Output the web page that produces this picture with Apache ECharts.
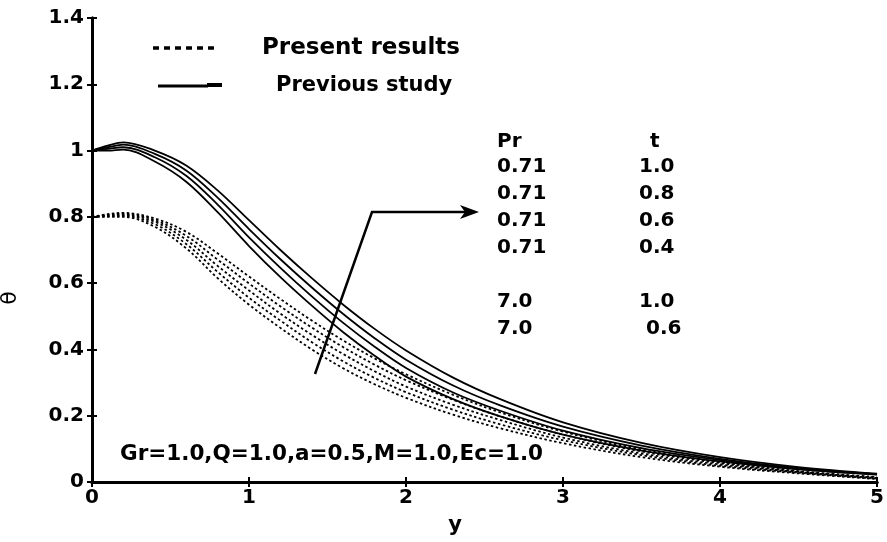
<!DOCTYPE html>
<html>
<head>
<meta charset="utf-8">
<script src="https://cdn.jsdelivr.net/npm/echarts@6/dist/echarts.min.js"></script>
<style>html,body{margin:0;padding:0;background:#fff;}#c{width:887px;height:542px;}</style>
</head>
<body>
<div id="c"></div>
<script>
// x positions (y coordinate in the figure)
var xs = [0, 0.1, 0.2, 0.4, 0.6, 0.8, 1.0, 1.2, 1.4, 1.6, 1.8, 2.0, 2.3, 2.6, 3.0, 3.5, 4.0, 4.5, 5.0];
// Previous study (solid)
var prev1 = [1.0, 1.015, 1.025, 1.0, 0.955, 0.88, 0.79, 0.70, 0.615, 0.535, 0.462, 0.397, 0.315, 0.25, 0.18, 0.118, 0.075, 0.045, 0.025];
var prev2 = [1.0, 1.01, 1.018, 0.99, 0.94, 0.858, 0.763, 0.672, 0.587, 0.507, 0.434, 0.369, 0.291, 0.231, 0.167, 0.11, 0.07, 0.042, 0.024];
var prev3 = [1.0, 1.005, 1.01, 0.98, 0.924, 0.837, 0.738, 0.646, 0.56, 0.48, 0.408, 0.344, 0.27, 0.215, 0.155, 0.102, 0.066, 0.04, 0.023];
var prev4 = [1.0, 1.0, 1.003, 0.967, 0.906, 0.814, 0.712, 0.618, 0.532, 0.452, 0.381, 0.318, 0.25, 0.198, 0.143, 0.095, 0.062, 0.038, 0.022];
// Present results (dotted)
var pres1 = [0.80, 0.808, 0.812, 0.795, 0.755, 0.69, 0.62, 0.552, 0.487, 0.427, 0.373, 0.325, 0.263, 0.21, 0.152, 0.098, 0.06, 0.033, 0.015];
var pres2 = [0.80, 0.806, 0.809, 0.79, 0.743, 0.671, 0.599, 0.53, 0.466, 0.407, 0.354, 0.307, 0.248, 0.198, 0.143, 0.092, 0.057, 0.031, 0.013];
var pres3 = [0.80, 0.804, 0.806, 0.785, 0.731, 0.652, 0.578, 0.508, 0.444, 0.386, 0.334, 0.288, 0.233, 0.187, 0.134, 0.086, 0.053, 0.03, 0.012];
var pres4 = [0.80, 0.802, 0.803, 0.778, 0.718, 0.634, 0.556, 0.487, 0.422, 0.364, 0.314, 0.271, 0.218, 0.174, 0.126, 0.081, 0.049, 0.028, 0.01];
var pres5 = [0.80, 0.80, 0.80, 0.77, 0.705, 0.615, 0.535, 0.465, 0.40, 0.343, 0.295, 0.254, 0.203, 0.162, 0.117, 0.075, 0.046, 0.026, 0.009];
// annotation table
var prCol = ["Pr", "0.71", "0.71", "0.71", "0.71", "", "7.0", "7.0"];
var tCol = ["t", "1.0", "0.8", "0.6", "0.4", "", "1.0", " 0.6"];
var legendNames = ["Present results", "Previous study"];
var paramText = "Gr=1.0,Q=1.0,a=0.5,M=1.0,Ec=1.0";

function pairs(ys) { return xs.map(function (x, i) { return [x, ys[i]]; }); }

var FONT = '"DejaVu Sans", sans-serif';
var series = [];
[prev1, prev2, prev3, prev4].forEach(function (d, i) {
  series.push({ name: legendNames[1] + i, type: 'line', data: pairs(d), smooth: 0.35, symbol: 'none',
    lineStyle: { color: '#000', width: 1.8, type: 'solid' }, silent: true });
});
[pres1, pres2, pres3, pres4, pres5].forEach(function (d, i) {
  series.push({ name: legendNames[0] + i, type: 'line', data: pairs(d), smooth: 0.35, symbol: 'none',
    lineStyle: { color: '#000', width: 1.8, type: [2.5, 2.5] }, silent: true });
});

var axisLine = { show: true, lineStyle: { color: '#000', width: 3 } };
var axisTick = { show: true, inside: true, length: 5, lineStyle: { color: '#000', width: 2 } };
var labelStyle = { color: '#000', fontWeight: 'bold', fontSize: 20, fontFamily: FONT };

function txt(x, y, s, size, extra) {
  var st = { text: s, fontSize: size, fontWeight: 'bold', fontFamily: FONT, fill: '#000', verticalAlign: 'middle', textVerticalAlign: 'middle' };
  if (extra) Object.assign(st, extra);
  return { type: 'text', x: x, y: y, style: st };
}

var graphics = [];
// legend
graphics.push({ type: 'line', shape: { x1: 153, y1: 48, x2: 219, y2: 48 }, style: { stroke: '#000', lineWidth: 3.5, lineDash: [6, 5] } });
graphics.push({ type: 'line', shape: { x1: 158, y1: 86, x2: 208, y2: 86 }, style: { stroke: '#000', lineWidth: 3 } });
graphics.push({ type: 'line', shape: { x1: 207, y1: 85, x2: 222, y2: 85 }, style: { stroke: '#000', lineWidth: 4 } });
graphics.push(txt(262, 48, legendNames[0], 23));
graphics.push(txt(276, 86, legendNames[1], 21));
// arrow
graphics.push({ type: 'polyline', shape: { points: [[315, 374], [372, 212], [466, 212]] }, style: { stroke: '#000', lineWidth: 2.5, fill: null } });
graphics.push({ type: 'polygon', shape: { points: [[479, 212], [460, 205], [465, 212], [460, 219]] }, style: { fill: '#000' } });
// table
var rowY = [142, 167, 194, 221, 248, 275, 302, 329];
prCol.forEach(function (s, i) { if (s) graphics.push(txt(497, rowY[i], s, 20)); });
tCol.forEach(function (s, i) { if (s) graphics.push(txt(i === 0 ? 650 : 639, rowY[i], s, 20)); });
// parameter text
graphics.push(txt(120, 454, paramText, 21.5));
// axis names
graphics.push(txt(455, 526, 'y', 21, { align: 'center', textAlign: 'center' }));
graphics.push({ type: 'text', x: 10, y: 298, rotation: Math.PI / 2,
  style: { text: 'θ', fontSize: 22, fontFamily: FONT, fill: '#000', align: 'center', textAlign: 'center', verticalAlign: 'middle', textVerticalAlign: 'middle' } });

var chart = echarts.init(document.getElementById('c'), null, { renderer: 'canvas' });
chart.setOption({
  animation: false,
  backgroundColor: '#fff',
  grid: { left: 92, right: 5, top: 18, bottom: 60 },
  xAxis: [
    { type: 'value', min: 0, max: 5, interval: 1, position: 'bottom', axisLine: axisLine, axisTick: axisTick,
      splitLine: { show: false }, axisLabel: Object.assign({ margin: 6 }, labelStyle) },
    { type: 'value', min: 0, max: 5, interval: 1, position: 'top', axisLine: axisLine, axisTick: axisTick,
      splitLine: { show: false }, axisLabel: { show: false } }
  ],
  yAxis: [
    { type: 'value', min: 0, max: 1.4, interval: 0.2, position: 'left', axisLine: axisLine, axisTick: axisTick,
      splitLine: { show: false }, axisLabel: Object.assign({ margin: 8 }, labelStyle) },
    { type: 'value', min: 0, max: 1.4, interval: 0.2, position: 'right', axisLine: axisLine, axisTick: axisTick,
      splitLine: { show: false }, axisLabel: { show: false } }
  ],
  series: series,
  graphic: graphics
});
</script>
</body>
</html>
